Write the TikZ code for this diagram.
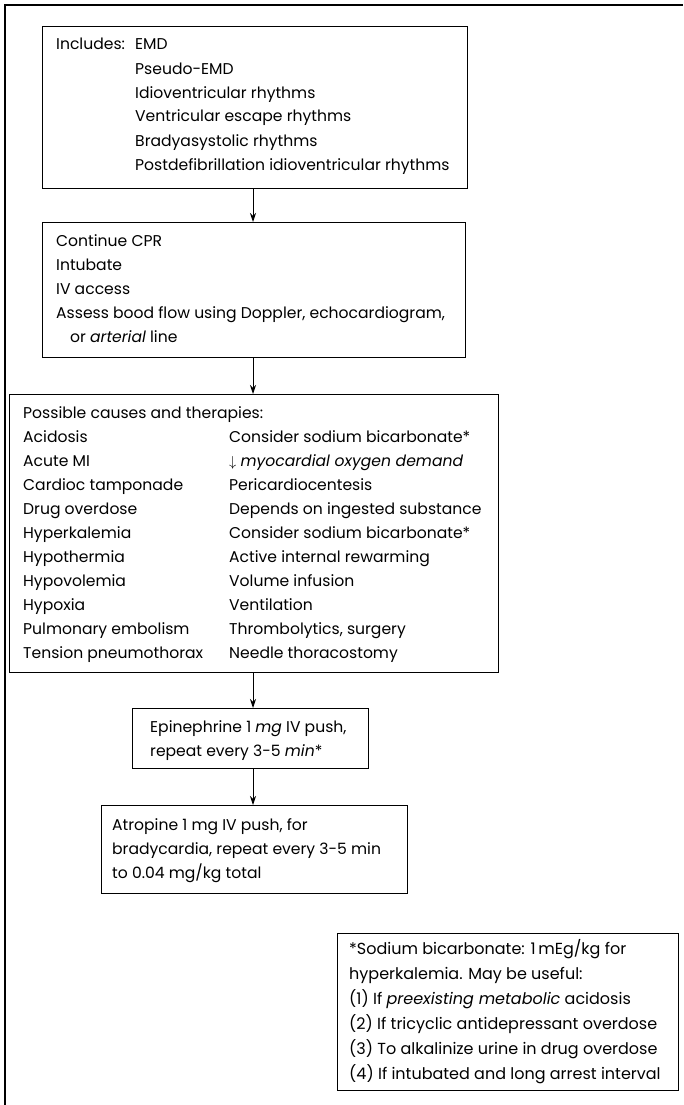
\documentclass[tikz,border=0pt]{standalone}
\usepackage{fontspec}
\setmainfont{Poppins}
\usetikzlibrary{arrows.meta,calc}
\begin{document}
\begin{tikzpicture}[x=1pt,y=-1pt,
  frame/.style={draw=black,line width=1.2pt},
  box/.style={draw=black,line width=1.1pt,inner sep=0pt,anchor=north west},
  txt/.style={anchor=base west,inner sep=0pt,align=left,font=\fontsize{15.6}{24}\selectfont},
  note/.style={txt,font=\fontsize{16}{25}\selectfont},
  flow/.style={line width=0.9pt,-{Stealth[length=9pt,width=6pt]}}]
\useasboundingbox (0,0) rectangle (683,1105);
% open outer frame: top and left edges only
\draw[frame] (5,1105) -- (5,5) -- (683,5);

% boxes
\node[box,minimum width=425pt,minimum height=162pt] (b1) at (42,26) {};
\node[box,minimum width=423pt,minimum height=135pt] (b2) at (42,222) {};
\node[box,minimum width=489pt,minimum height=278pt] (b3) at (9,394) {};
\node[box,minimum width=236pt,minimum height=60pt] (b4) at (132,708) {};
\node[box,minimum width=306pt,minimum height=88pt] (b5) at (101,805) {};
\node[box,minimum width=341pt,minimum height=157pt] (b6) at (337,933) {};

% texts (anchor = baseline of the last line)
\node[txt] (t1a) at (56,50) {Includes:};
\node[txt] (t1b) at (135,170) {EMD\\Pseudo-EMD\\Idioventricular rhythms\\Ventricular escape rhythms\\Bradyasystolic rhythms\\Postdefibrillation idioventricular rhythms};
\node[txt] (t2) at (56,342) {Continue CPR\\Intubate\\IV access\\Assess bood flow using Doppler, echocardiogram,\\\hspace*{14pt}or \textit{arterial} line};
\node[txt] (t3) at (23,658) {Possible causes and therapies:\\
\makebox[206pt][l]{Acidosis}Consider sodium bicarbonate*\\
\makebox[206pt][l]{Acute MI}$\downarrow$ \textit{myocardial oxygen demand}\\
\makebox[206pt][l]{Cardioc tamponade}Pericardiocentesis\\
\makebox[206pt][l]{Drug overdose}Depends on ingested substance\\
\makebox[206pt][l]{Hyperkalemia}Consider sodium bicarbonate*\\
\makebox[206pt][l]{Hypothermia}Active internal rewarming\\
\makebox[206pt][l]{Hypovolemia}Volume infusion\\
\makebox[206pt][l]{Hypoxia}Ventilation\\
\makebox[206pt][l]{Pulmonary embolism}Thrombolytics, surgery\\
\makebox[206pt][l]{Tension pneumothorax}Needle thoracostomy};
\node[txt] (t4) at (150,756) {Epinephrine 1 \textit{mg} IV push,\\repeat every 3-5 \textit{min}*};
\node[txt] (t5) at (112,878) {Atropine 1 mg IV push, for\\bradycardia, repeat every 3-5 min\\to 0.04 mg/kg total};
\node[note] (t6) at (349,1079) {*Sodium bicarbonate: 1\,mEg/kg for\\hyperkalemia. May be useful:\\(1) If \textit{preexisting metabolic} acidosis\\(2) If tricyclic antidepressant overdose\\(3) To alkalinize urine in drug overdose\\(4) If intubated and long arrest interval};

% connectors
\coordinate (ax) at (253,0);
\draw[flow] (b1.south -| ax) -- (b2.north -| ax);
\draw[flow] (b2.south -| ax) -- (b3.north -| ax);
\draw[flow] (b3.south -| ax) -- (b4.north -| ax);
\draw[flow] (b4.south -| ax) -- (b5.north -| ax);
\end{tikzpicture}
\end{document}
